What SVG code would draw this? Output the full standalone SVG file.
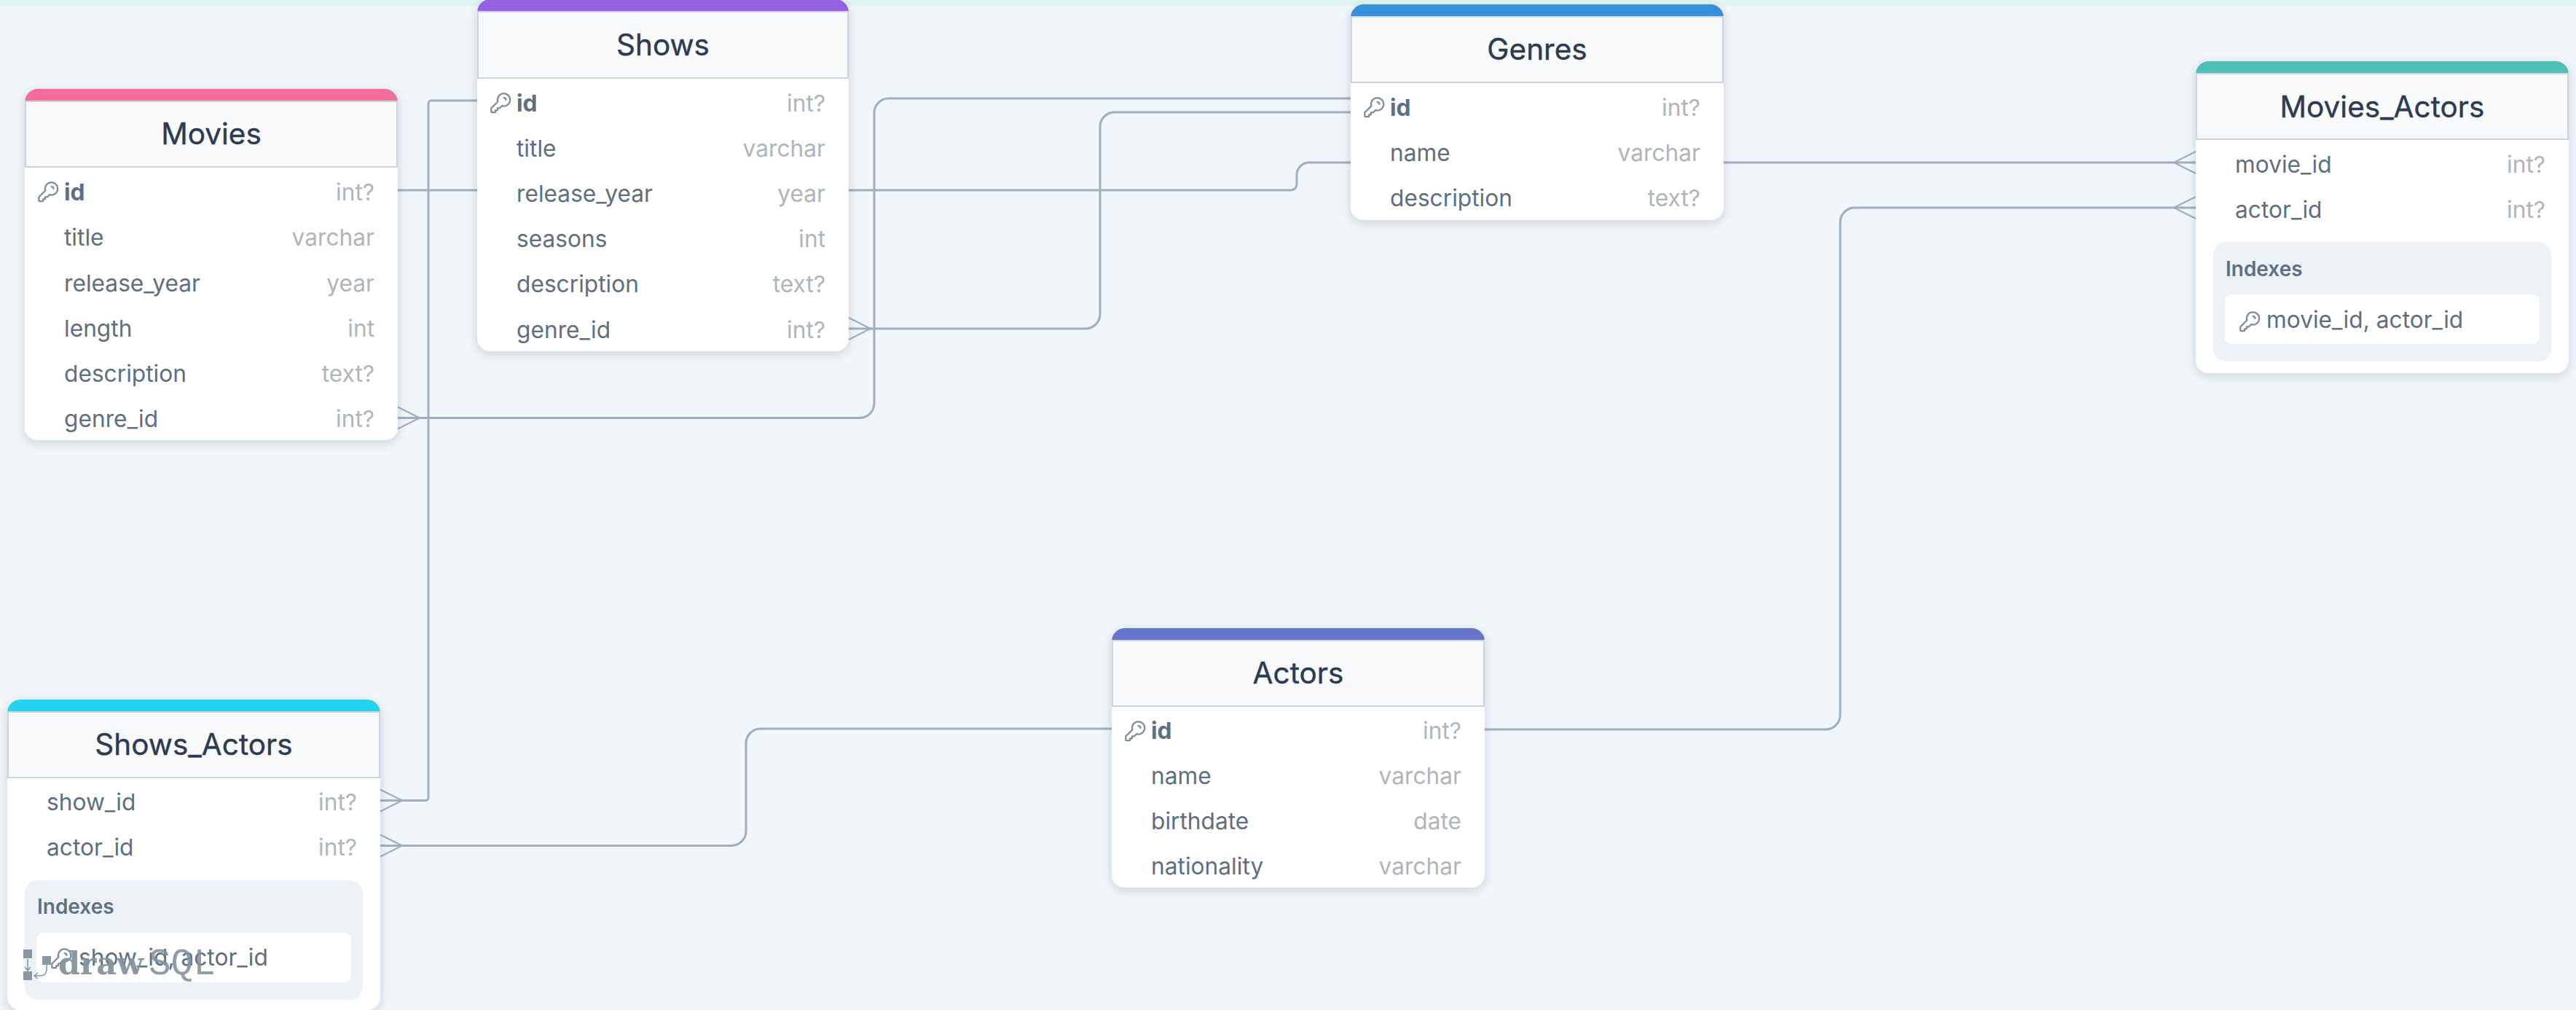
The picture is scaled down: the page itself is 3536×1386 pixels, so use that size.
<svg xmlns="http://www.w3.org/2000/svg" width="3536" height="1386" viewBox="0 0 3536 1386">
<style>
text{font-family:Inter,"Liberation Sans",sans-serif}
.card{fill:#fff;filter:url(#sh)}
.head{fill:#f8fafc;stroke:#cbd5e0;stroke-width:2}
.title{font-size:40.5px;fill:#2d3b50;stroke:#2d3b50;stroke-width:0.4;text-anchor:middle}
.n{font-size:31.7px;fill:#606f7f}
.pk{font-weight:700}
.t{font-size:31.7px;fill:#b0b5ba;text-anchor:end}
.ix{fill:#edf2f7}
.ixw{fill:#fff}
.ixl{font-size:28px;font-weight:600;fill:#5f6f85}
.ln{fill:none;stroke:#a0aec0;stroke-width:3}
.cr{fill:none;stroke:#a0aec0;stroke-width:2.2}
.key{fill:none;stroke:#7f8c99;stroke-width:1.6;stroke-linecap:round;stroke-linejoin:round}
.wm{font-family:"Liberation Mono",monospace;font-size:51px;fill:#8493a0}
.wb{font-family:"DejaVu Serif",serif;font-size:43px;font-weight:700;fill:#8493a0}
</style>
<defs>
<filter id="sh" x="-10%" y="-10%" width="120%" height="125%"><feDropShadow dx="0" dy="4" stdDeviation="7" flood-color="#1a2b3c" flood-opacity="0.16"/></filter>
<symbol id="k" viewBox="0 0 24 24" width="34.5" height="34.5" overflow="visible"><path class="key" d="M15 7a2 2 0 012 2m4 0a6 6 0 01-7.743 5.743L11 17H9v2H7v2H4a1 1 0 01-1-1v-2.586a1 1 0 01.293-.707l5.964-5.964A6 6 0 1121 9z"/></symbol>
<path id="cr" class="cr" d="M0 -15L30 0L0 15M0 0H30"/>
</defs>
<rect width="3536" height="1386" fill="#f0f6f9"/>
<rect width="3536" height="8" fill="#dff5f2"/>
<g id="connectors">
<path class="ln" d="M655 138H592A4 4 0 0 0 588 142V1094.500A4 4 0 0 1 584 1098.500H522"/>
<path class="ln" d="M546 261H1772A8 8 0 0 0 1780 253V240A17 17 0 0 1 1797 223H3014"/>
<path class="ln" d="M546 573.500H1180A20 20 0 0 0 1200 553.500V155A20 20 0 0 1 1220 135H1854"/>
<path class="ln" d="M1165 451H1490A20 20 0 0 0 1510 431V174A20 20 0 0 1 1530 154H1854"/>
<path class="ln" d="M2038 1001H2506A20 20 0 0 0 2526 981V305A20 20 0 0 1 2546 285H3014"/>
<path class="ln" d="M1526 1000H1044A20 20 0 0 0 1024 1020V1140.500A20 20 0 0 1 1004 1160.500H522"/>
<use href="#cr" transform="translate(546 573.500)"/>
<use href="#cr" transform="translate(1165 451)"/>
<use href="#cr" transform="translate(522 1098.500)"/>
<use href="#cr" transform="translate(522 1160.500)"/>
<use href="#cr" transform="translate(3014 223) scale(-1 1)"/>
<use href="#cr" transform="translate(3014 285) scale(-1 1)"/>
</g>
<g id="Movies" transform="translate(34 122)">
<rect class="card" width="512" height="482" rx="18"/>
<path fill="#f66d9b" d="M0 17V18A18 18 0 0 1 18 0H494A18 18 0 0 1 512 18V17Z"/>
<rect class="head" x="1" y="17" width="510" height="90"/>
<text class="title" x="256" y="75.500">Movies</text>
<use href="#k" x="15" y="124"/>
<text class="n pk" x="54" y="152.500">id</text><text class="t" x="480" y="152.500">int?</text>
<text class="n" x="54" y="215">title</text><text class="t" x="480" y="215">varchar</text>
<text class="n" x="54" y="277.500">release_year</text><text class="t" x="480" y="277.500">year</text>
<text class="n" x="54" y="339.500">length</text><text class="t" x="480" y="339.500">int</text>
<text class="n" x="54" y="401.500">description</text><text class="t" x="480" y="401.500">text?</text>
<text class="n" x="54" y="464">genre_id</text><text class="t" x="480" y="464">int?</text>
</g>
<g id="Shows" transform="translate(655 -1)">
<rect class="card" width="510" height="483" rx="18"/>
<path fill="#9561e2" d="M0 17V18A18 18 0 0 1 18 0H492A18 18 0 0 1 510 18V17Z"/>
<rect class="head" x="1" y="17" width="508" height="91"/>
<text class="title" x="255" y="76.500">Shows</text>
<use href="#k" x="15" y="125"/>
<text class="n pk" x="54" y="153.500">id</text><text class="t" x="478" y="153.500">int?</text>
<text class="n" x="54" y="216">title</text><text class="t" x="478" y="216">varchar</text>
<text class="n" x="54" y="278">release_year</text><text class="t" x="478" y="278">year</text>
<text class="n" x="54" y="340">seasons</text><text class="t" x="478" y="340">int</text>
<text class="n" x="54" y="402">description</text><text class="t" x="478" y="402">text?</text>
<text class="n" x="54" y="465">genre_id</text><text class="t" x="478" y="465">int?</text>
</g>
<g id="Genres" transform="translate(1854 6)">
<rect class="card" width="512" height="296" rx="18"/>
<path fill="#3490dc" d="M0 17V18A18 18 0 0 1 18 0H494A18 18 0 0 1 512 18V17Z"/>
<rect class="head" x="1" y="17" width="510" height="90"/>
<text class="title" x="256" y="76">Genres</text>
<use href="#k" x="15" y="124"/>
<text class="n pk" x="54" y="152.500">id</text><text class="t" x="480" y="152.500">int?</text>
<text class="n" x="54" y="214.500">name</text><text class="t" x="480" y="214.500">varchar</text>
<text class="n" x="54" y="277">description</text><text class="t" x="480" y="277">text?</text>
</g>
<g id="Movies_Actors" transform="translate(3014 84)">
<rect class="card" width="512" height="428" rx="18"/>
<path fill="#4dc0b5" d="M0 17V18A18 18 0 0 1 18 0H494A18 18 0 0 1 512 18V17Z"/>
<rect class="head" x="1" y="17" width="510" height="90"/>
<text class="title" x="256" y="76.500">Movies_Actors</text>
<text class="n" x="54" y="152.500">movie_id</text><text class="t" x="480" y="152.500">int?</text>
<text class="n" x="54" y="214.500">actor_id</text><text class="t" x="480" y="214.500">int?</text>
<rect class="ix" x="24" y="248" width="464" height="164" rx="18"/>
<text class="ixl" x="41" y="295">Indexes</text>
<rect class="ixw" x="40" y="320" width="432" height="68" rx="9"/>
<use href="#k" x="57" y="340"/>
<text class="n" x="97" y="366">movie_id, actor_id</text>
</g>
<g id="Actors" transform="translate(1526 862)">
<rect class="card" width="512" height="356" rx="18"/>
<path fill="#6574cd" d="M0 17V18A18 18 0 0 1 18 0H494A18 18 0 0 1 512 18V17Z"/>
<rect class="head" x="1" y="17" width="510" height="90"/>
<text class="title" x="256" y="76">Actors</text>
<use href="#k" x="15" y="124"/>
<text class="n pk" x="54" y="152">id</text><text class="t" x="480" y="152">int?</text>
<text class="n" x="54" y="214">name</text><text class="t" x="480" y="214">varchar</text>
<text class="n" x="54" y="276">birthdate</text><text class="t" x="480" y="276">date</text>
<text class="n" x="54" y="338">nationality</text><text class="t" x="480" y="338">varchar</text>
</g>
<g id="Shows_Actors" transform="translate(10 960)">
<rect class="card" width="512" height="426" rx="18"/>
<path fill="#21d4ef" d="M0 17V18A18 18 0 0 1 18 0H494A18 18 0 0 1 512 18V17Z"/>
<rect class="head" x="1" y="17" width="510" height="90"/>
<text class="title" x="256" y="76">Shows_Actors</text>
<text class="n" x="54" y="152">show_id</text><text class="t" x="480" y="152">int?</text>
<text class="n" x="54" y="214">actor_id</text><text class="t" x="480" y="214">int?</text>
<rect class="ix" x="24" y="248" width="464" height="164" rx="18"/>
<text class="ixl" x="41" y="294">Indexes</text>
<rect class="ixw" x="40" y="320" width="432" height="68" rx="9"/>
<use href="#k" x="57" y="338"/>
<text class="n" x="98" y="365">show_id, actor_id</text>
</g>
<g id="watermark" opacity="0.95">
<rect x="32" y="1303" width="12" height="12" fill="#8493a0"/>
<rect x="32" y="1333" width="12" height="12" fill="#8493a0"/>
<rect x="58" y="1312" width="12" height="12" fill="#8493a0"/>
<path fill="none" stroke="#8493a0" stroke-width="1.6" d="M38 1316V1331M34 1327L38 1332L42 1327M64 1324V1330Q64 1339 55 1339H47M52 1335L47 1339L52 1343"/>
<text class="wb" x="80" y="1337" textLength="117">draw</text>
<text class="wm" x="204" y="1337" opacity="0.95">SQL</text>
</g>
</svg>
